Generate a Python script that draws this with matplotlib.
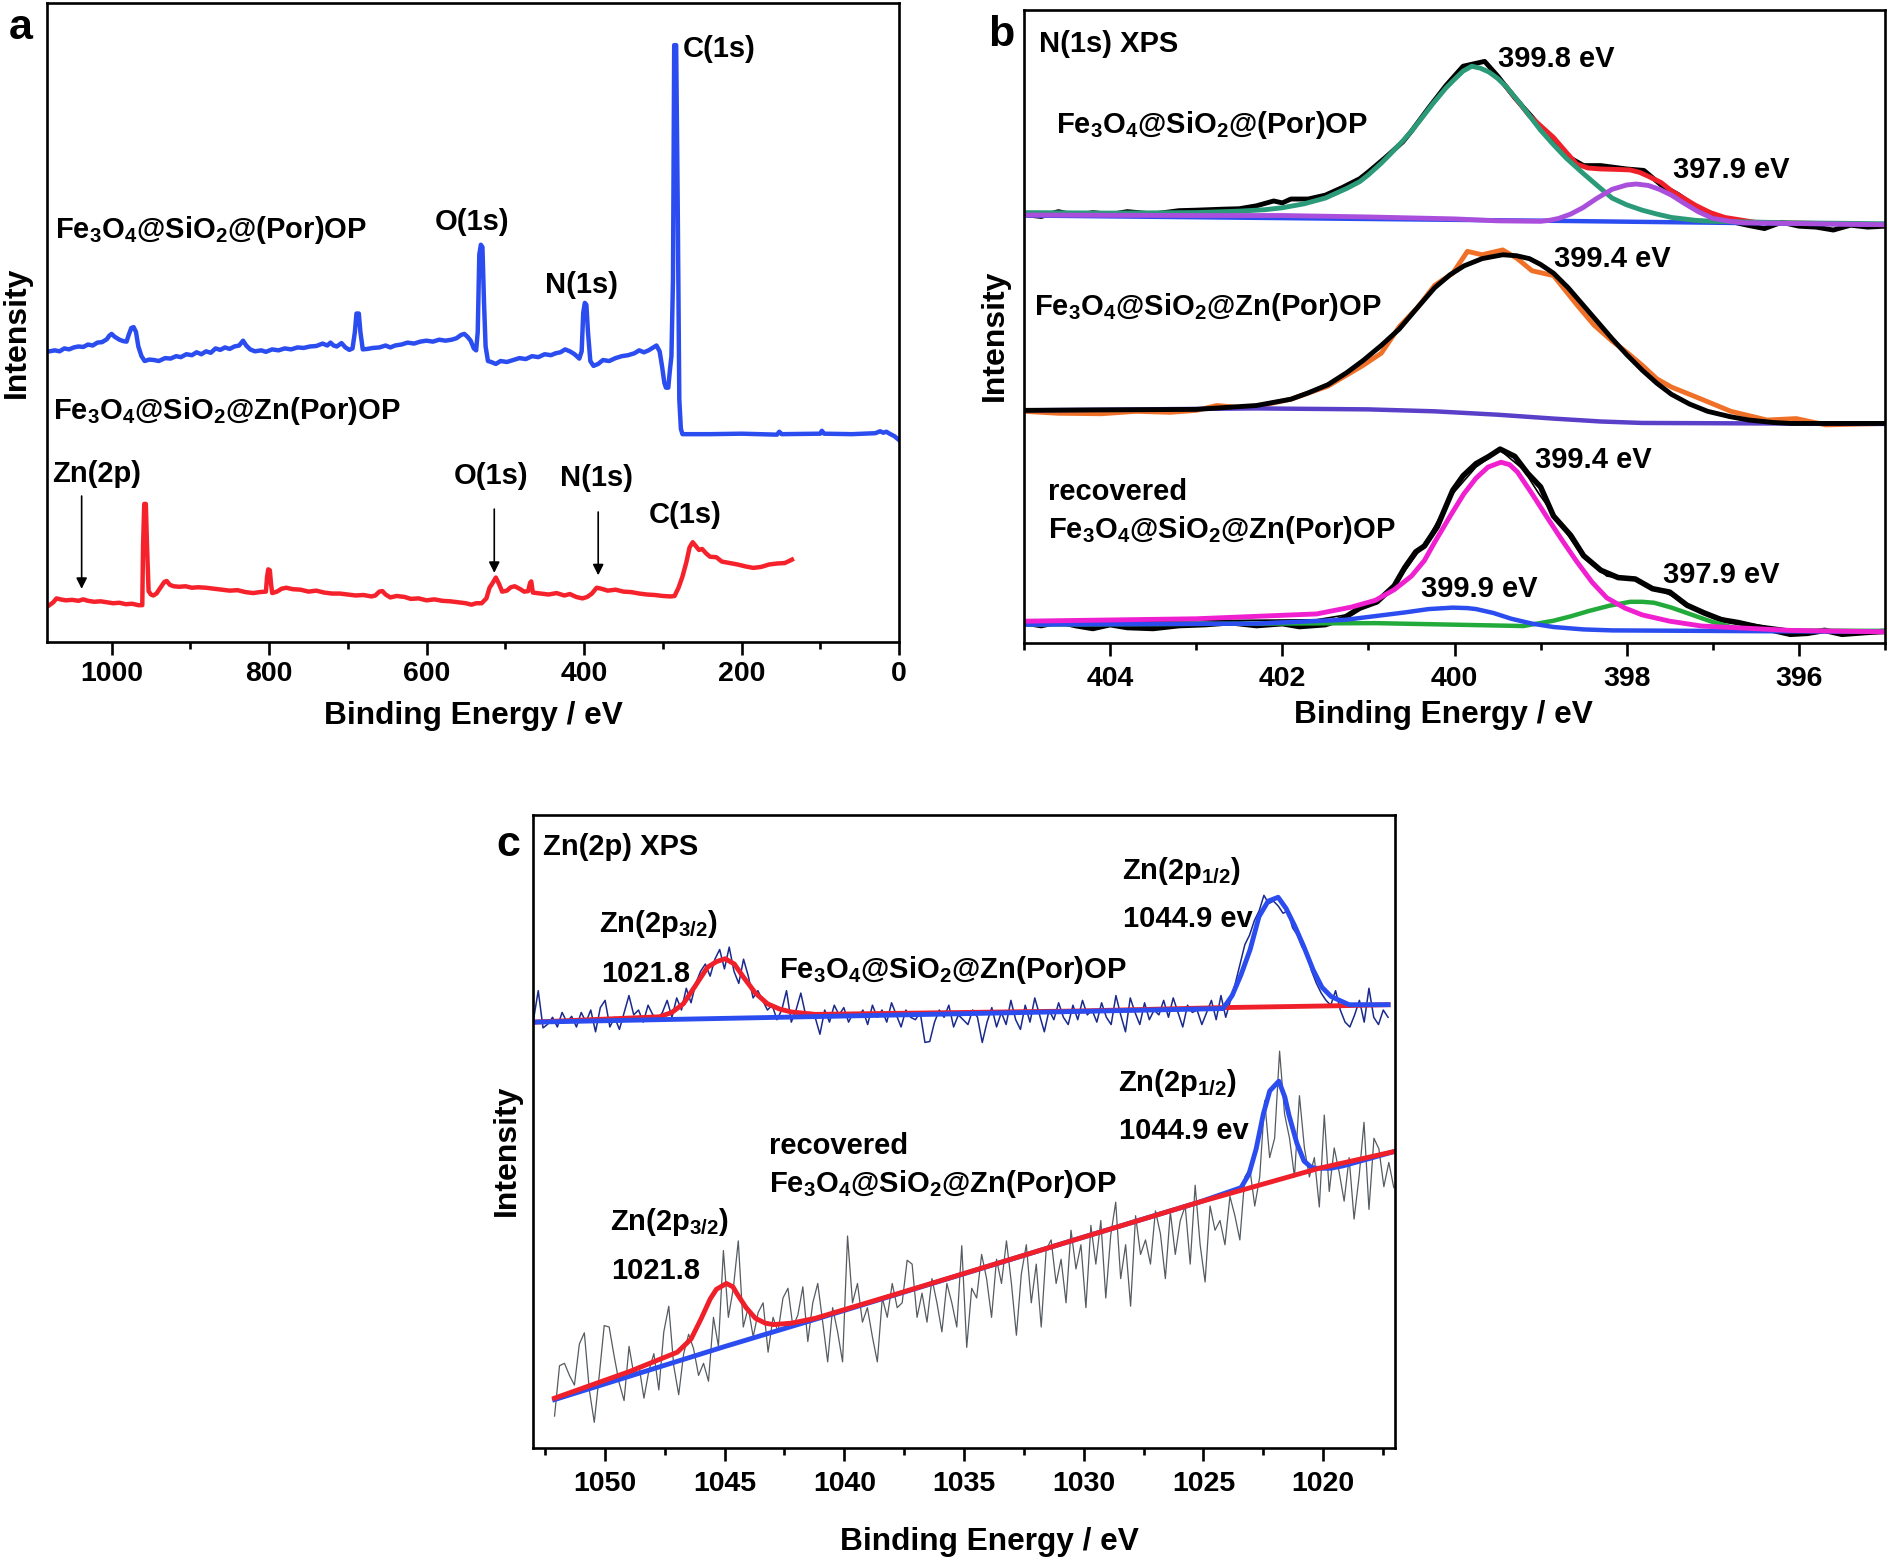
import numpy as np
import matplotlib
matplotlib.use("Agg")
import matplotlib.pyplot as plt
from matplotlib.ticker import MultipleLocator

plt.rcParams['font.family'] = ['Liberation Sans', 'DejaVu Sans']
plt.rcParams['font.weight'] = 'bold'
plt.rcParams['mathtext.fontset'] = 'custom'
plt.rcParams['mathtext.bf'] = 'Liberation Sans:bold'
plt.rcParams['mathtext.rm'] = 'Liberation Sans:bold'
plt.rcParams['mathtext.default'] = 'bf'

W, H = 1890, 1562

### panel a: survey spectra

a_blue_e = [1079, 1072, 1066, 1060, 1054, 1048, 1042, 1036, 1030, 1024, 1018, 1012, 1006, 1003, 1000, 996, 990, 985,
            981, 978, 975, 972, 969, 966, 962, 958, 952, 946, 940, 932, 925, 918, 912, 905, 898, 892, 886, 880, 874,
            868, 862, 856, 850, 844, 838, 833, 829, 824, 818, 810, 804, 796, 788, 780, 772, 764, 756, 748, 740, 732,
            726, 722, 718, 714, 708, 703, 698, 694, 691, 689, 686, 684, 681, 675, 668, 660, 652, 646, 640, 632, 624,
            616, 608, 600, 592, 584, 576, 568, 562, 556, 552, 548, 544, 540, 537, 535, 533, 531, 529, 527, 525, 522,
            518, 512, 506, 498, 490, 482, 474, 466, 458, 450, 442, 436, 430, 424, 418, 412, 406, 403, 401, 399, 397,
            395, 392, 388, 382, 376, 368, 360, 352, 344, 336, 330, 324, 318, 312, 308, 304, 301, 298, 296, 293, 291,
            289, 287, 285.5, 283, 281, 279, 277, 275, 240, 200, 155, 152, 149, 100, 98, 95, 60, 30, 24, 20, 16, 12, 6, 0]
a_blue_i = [600, 602, 600, 606, 604, 608, 610, 609, 614, 612, 618, 619, 625, 632, 636, 630, 624, 621,
            620, 635, 648, 650, 640, 610, 590, 580, 583, 582, 580, 586, 585, 590, 588, 594, 592, 598, 594, 600, 597,
            606, 603, 608, 605, 610, 612, 622, 612, 604, 600, 602, 599, 604, 602, 606, 604, 608, 607, 610, 611, 616,
            612, 618, 612, 610, 617, 608, 603, 606, 640, 678, 678, 640, 604, 605, 607, 608, 612, 608, 612, 614, 618,
            616, 620, 622, 620, 624, 622, 624, 627, 634, 636, 630, 622, 606, 602, 640, 800, 820, 815, 700, 610, 580,
            578, 574, 580, 578, 582, 586, 584, 590, 588, 594, 592, 596, 598, 604, 600, 594, 585, 600, 680, 700, 696,
            640, 580, 570, 574, 582, 580, 586, 590, 592, 596, 602, 598, 602, 608, 612, 600, 570, 535, 525, 525, 560,
            590, 750, 1232, 1232, 900, 500, 440, 429, 429, 430, 428, 434, 429, 430, 436, 430, 429, 431, 435, 432, 434, 430, 425, 417]

a_red_e = [1079, 1074, 1070, 1065, 1058, 1050, 1042, 1036, 1030, 1022, 1014, 1006, 998, 990, 982, 974, 966, 961, 960,
           958.5, 956.5, 955, 953, 950, 947, 943, 938, 933, 930, 926, 921, 914, 906, 898, 890, 880, 870, 860, 850,
           840, 830, 820, 812, 804, 802.5, 801, 799, 797.5, 796, 790, 784, 778, 770, 760, 750, 740, 730, 720, 710,
           700, 690, 680, 670, 665, 660, 656, 652, 646, 638, 628, 620, 610, 600, 590, 580, 570, 560, 550, 543, 537,
           530, 524, 520, 516, 512, 508, 504, 498, 493, 488, 482, 476, 471, 468.5, 467, 465, 455, 445, 435, 425, 418,
           410, 402, 396, 390, 384, 378, 370, 360, 350, 340, 330, 320, 310, 300, 290, 285, 280, 275, 270, 266, 262,
           258, 254, 250, 245, 240, 232, 225, 215, 205, 195, 185, 175, 165, 155, 145, 136]
a_red_i = [76, 82, 90, 88, 86, 87, 85, 88, 85, 83, 84, 82, 80, 81, 78, 79, 76, 76, 200,
           285, 285, 200, 105, 98, 96, 100, 112, 124, 126, 118, 115, 114, 115, 112, 113, 112, 110, 108, 106,
           107, 103, 101, 103, 104, 135, 150, 148, 120, 101, 104, 110, 112, 109, 108, 104, 106, 102, 100, 100,
           98, 96, 97, 94, 96, 104, 105, 98, 92, 95, 93, 89, 90, 86, 88, 85, 84, 82, 80, 77, 80,
           80, 90, 112, 122, 133, 120, 104, 106, 113, 115, 110, 104, 105, 122, 125, 102, 100, 98, 101, 96, 99,
           93, 90, 93, 100, 112, 110, 106, 108, 104, 103, 100, 98, 97, 95, 94, 95, 112, 135, 165, 195, 206,
           198, 190, 192, 183, 176, 175, 166, 163, 160, 156, 153, 155, 160, 162, 163, 170]

### panel b: N(1s)

b1_raw_e = [405, 404.8, 404.6, 404.4, 404.2, 404, 403.8, 403.5, 403.2, 403, 402.7, 402.5, 402.3, 402.1, 402, 401.9,
            401.7, 401.5, 401.3, 401.1, 401, 400.8, 400.6, 400.5, 400.3, 400.1, 399.9, 399.8, 399.65, 399.5, 399.3,
            399.1, 398.9, 398.7, 398.5, 398.3, 398, 397.8, 397.6, 397.4, 397.2, 397, 396.8, 396.6, 396.4, 396.2, 396,
            395.8, 395.6, 395.4, 395.2, 395]
b1_raw_i = [884, 880, 890, 882, 888, 884, 890, 885, 892, 893, 895, 896, 902, 912, 908, 916,
            916, 924, 940, 958, 972, 1002, 1034, 1056, 1104, 1150, 1190, 1194, 1200, 1170, 1125,
            1085, 1042, 1005, 985, 985, 978, 975, 945, 925, 900, 885, 870, 862, 855, 868, 860,
            858, 852, 862, 858, 860]
b1_total_e = [399.4, 399.13, 398.85, 398.7, 398.58, 398.45, 398.3, 398.1, 397.96, 397.85, 397.75, 397.6, 397.48,
              397.34, 397.2, 397.03, 396.86, 396.51, 395]
b1_total_i = [1148, 1088, 1043, 1012, 988, 980, 978, 977, 976, 971, 963, 950, 933,
              918, 903, 888, 878, 868, 863]
b1_main_e = [405, 404, 403, 402.5, 402.2, 402, 401.75, 401.5, 401.25, 401.1, 401, 400.85, 400.75, 400.6, 400.5,
             400.35, 400.25, 400.1, 400, 399.9, 399.8, 399.7, 399.6, 399.5, 399.4, 399.25, 399.13, 399, 398.85,
             398.7, 398.5, 398.33, 398.17, 398, 397.82, 397.65, 397.48, 397.2, 397, 396.1, 395]
b1_main_i = [888, 887, 888, 891, 894, 898, 906, 918, 938, 952, 966, 990, 1008, 1036, 1056,
             1090, 1113, 1145, 1163, 1180, 1190, 1186, 1178, 1165, 1148, 1116, 1088, 1058, 1028,
             1000, 968, 942, 918, 904, 893, 885, 878, 872, 870, 867, 865]
b1_side_e = [405, 403, 402, 401, 400, 399.5, 399, 398.9, 398.79, 398.65, 398.51, 398.35, 398.17, 398, 397.89, 397.75,
             397.62, 397.48, 397.34, 397.17, 397, 396.8, 396.65, 395]
b1_side_i = [883, 882, 882, 879, 875, 871, 870, 872, 876, 885, 898, 917, 936, 945, 947, 944,
             936, 924, 908, 890, 876, 870, 867, 863]
b1_base_e = [405, 398.85, 395]
b1_base_i = [882, 871, 863]

b2_raw_e = [405, 404.6, 404.1, 403.7, 403.3, 403, 402.76, 402.5, 402.3, 401.9, 401.47, 401.06, 400.85, 400.64, 400.43,
            400.23, 400.02, 399.85, 399.68, 399.44, 399.27, 399.1, 398.85, 398.58, 398.38, 398.17, 398, 397.82,
            397.65, 397.48, 397.2, 396.79, 396.37, 396.03, 395.69, 395]
b2_raw_i = [478, 474, 473, 478, 476, 480, 490, 486, 488, 503, 530, 573, 598, 653, 692,
            738, 763, 808, 801, 811, 793, 768, 758, 698, 656, 623, 600, 573,
            545, 528, 508, 478, 460, 463, 450, 453]
b2_fit_e = [405, 403, 402.3, 401.9, 401.7, 401.47, 401.25, 401.06, 400.85, 400.64, 400.43, 400.23, 400.05, 399.89,
            399.68, 399.44, 399.28, 399.13, 399, 398.85, 398.68, 398.51, 398.34, 398.17, 398, 397.82, 397.65, 397.48,
            397.27, 397.06, 396.8, 396.58, 396.3, 396.1, 395]
b2_fit_i = [480, 482, 490, 503, 516, 533, 558, 583, 614, 648, 692, 733, 760, 778,
            793, 801, 799, 793, 781, 763, 733, 698, 663, 628, 595, 563, 536, 513,
            493, 478, 467, 460, 455, 453, 453]
b2_base_e = [405, 402.3, 401, 400.23, 399.5, 398.85, 398.3, 397.82, 395]
b2_base_i = [480, 484, 482, 478, 471, 463, 457, 454, 452]

b3_raw_e = [405, 404.8, 404.6, 404.4, 404.2, 404, 403.8, 403.5, 403.2, 402.9, 402.6, 402.3, 402, 401.8, 401.5, 401.3,
            401.1, 400.9, 400.7, 400.58, 400.45, 400.35, 400.2, 400.02, 399.9, 399.75, 399.6, 399.47, 399.3, 399.15,
            399, 398.85, 398.65, 398.5, 398.3, 398.1, 397.9, 397.7, 397.5, 397.3, 397.1, 396.9, 396.7, 396.4, 396.1,
            395.9, 395.7, 395.5, 395.2, 395]
b3_raw_i = [42, 36, 44, 36, 30, 38, 32, 30, 36, 38, 42, 36, 40, 34, 38, 50,
            72, 85, 118, 155, 188, 200, 240, 315, 345, 370, 385, 400, 385, 350,
            322, 262, 222, 180, 150, 135, 132, 112, 105, 78, 62, 48, 42, 30, 18,
            20, 26, 18, 22, 24]
b3_fit_e = [405, 401.6, 401.26, 400.92, 400.71, 400.58, 400.3, 400.02, 399.75, 399.47, 399.2, 399.02, 398.78, 398.51,
            398.23, 397.89, 397.48, 397.13, 396.72, 396.1, 395]
b3_fit_i = [43, 48, 58, 83, 113, 148, 218, 308, 363, 398, 358, 308, 248, 178,
            138, 130, 98, 63, 43, 28, 23]
b3_mag_e = [405, 403, 401.6, 401.2, 400.92, 400.7, 400.5, 400.35, 400.23, 400.05, 399.89, 399.75, 399.61, 399.46,
            399.36, 399.27, 399.1, 398.92, 398.75, 398.58, 398.4, 398.23, 398.02, 397.82, 397.5, 397.13, 396.1, 395]
b3_mag_i = [45, 50, 60, 74, 88, 110, 138, 170, 208, 262, 308, 340, 363, 373,
            368, 353, 308, 258, 212, 168, 125, 93, 72, 58, 45, 35, 26, 23]
b3_blue_e = [405, 402.3, 401.26, 400.58, 400.3, 400.02, 399.85, 399.75, 399.55, 399.34, 399.1, 398.85, 398.5, 398.17, 395]
b3_blue_i = [38, 40, 48, 63, 70, 73, 72, 70, 62, 50, 40, 33, 28, 26, 23]
b3_green_e = [405, 400.92, 399.2, 398.85, 398.65, 398.44, 398.2, 397.96, 397.82, 397.68, 397.48, 397.27, 397.03,
              396.79, 396.44, 395]
b3_green_i = [38, 41, 35, 46, 55, 66, 77, 85, 85, 83, 73, 60, 45, 33, 26, 25]

### panel c: Zn(2p)

c1_raw_i = [885, 945, 868, 876, 890, 870, 900, 880, 892, 870,
            900, 880, 905, 860, 910, 925, 870, 890, 865, 900,
            935, 895, 905, 880, 915, 895, 885, 900, 925, 890,
            930, 905, 950, 920, 960, 985, 1000, 975, 1010, 1030,
            990, 1035, 985, 960, 1010, 975, 930, 945, 925, 905,
            915, 885, 905, 945, 880, 905, 940, 895, 900, 890,
            855, 905, 880, 915, 895, 910, 880, 900, 890, 905,
            875, 915, 890, 905, 880, 920, 895, 870, 905, 890,
            885, 900, 838, 840, 880, 905, 890, 915, 870, 895,
            885, 875, 905, 890, 838, 880, 910, 870, 900, 875,
            925, 885, 865, 915, 880, 930, 895, 860, 905, 885,
            920, 890, 875, 915, 885, 925, 895, 905, 880, 920,
            890, 875, 935, 895, 860, 930, 900, 875, 920, 885,
            905, 895, 925, 890, 930, 900, 870, 915, 900, 905,
            875, 900, 925, 885, 935, 890, 925, 960, 1000, 1040,
            1060, 1090, 1110, 1142, 1125, 1130, 1120, 1105, 1110, 1075,
            1060, 1035, 1020, 985, 960, 940, 925, 915, 945, 905,
            880, 870, 895, 925, 880, 950, 890, 875, 905, 890]
c1_red_e = [1052.98, 1047.72, 1047.2, 1046.72, 1046.22, 1045.72, 1045.34, 1044.97, 1044.59, 1044.21, 1043.71, 1043.21,
            1042.7, 1042.21, 1041.21, 1030.19, 1024.18, 1019.17, 1017.29]
c1_red_i = [880, 891, 900, 918, 955, 993, 1005, 1011, 1000, 973, 940, 918,
            907, 901, 896, 903, 910, 914, 916]
c1_blue_e = [1052.98, 1024.18, 1023.8, 1023.43, 1023.05, 1022.68, 1022.3, 1021.88, 1021.55, 1021.18, 1020.8, 1020.42,
             1020.05, 1019.67, 1018.92, 1017.29]
c1_blue_i = [880, 908, 935, 978, 1030, 1098, 1130, 1138, 1115, 1078, 1035, 988,
             952, 933, 916, 916]

c2_raw_i = [66, 170, 175, 150, 130, 215, 238, 120, 53, 150,
            253, 250, 190, 135, 98, 210, 150, 170, 103, 160,
            195, 120, 240, 293, 170, 110, 195, 235, 205, 150,
            175, 138, 270, 210, 408, 270, 330, 428, 250, 290,
            230, 280, 300, 198, 270, 240, 310, 330, 250, 275,
            333, 220, 300, 340, 260, 178, 290, 240, 178, 438,
            300, 340, 260, 290, 230, 178, 310, 270, 340, 290,
            300, 388, 380, 270, 320, 260, 350, 300, 240, 340,
            300, 250, 418, 208, 330, 310, 400, 350, 270, 390,
            340, 428, 340, 233, 360, 420, 300, 380, 250, 410,
            430, 340, 390, 300, 450, 370, 420, 290, 460, 380,
            470, 310, 440, 508, 350, 420, 293, 480, 400, 430,
            380, 490, 443, 350, 488, 400, 470, 500, 380, 543,
            420, 343, 500, 450, 470, 420, 520, 480, 430, 560,
            578, 500, 560, 718, 600, 640, 820, 690, 640, 560,
            728, 620, 560, 600, 498, 688, 530, 620, 570, 510,
            600, 473, 560, 673, 493, 640, 618, 540, 590, 538]
c2_red_e = [1052.1, 1048.97, 1046.97, 1046.4, 1045.97, 1045.6, 1045.34, 1044.92, 1044.65, 1044.47, 1044.1, 1043.71,
            1043.3, 1042.96, 1042.2, 1041.21, 1037.7, 1030.19, 1025.18, 1020.17, 1017]
c2_red_i = [103, 158, 198, 225, 268, 308, 328, 340, 333, 318, 290, 268,
            258, 255, 258, 268, 320, 433, 508, 578, 613]
c2_blue_e = [1052.1, 1044.97, 1041.21, 1030.19, 1025.18, 1023.43, 1023.1, 1022.8, 1022.5, 1022.23, 1021.85, 1021.6,
             1021.43, 1021.1, 1020.8, 1020.5, 1020.3, 1019.7, 1019.17, 1017]
c2_blue_i = [100, 210, 266, 433, 508, 538, 566, 618, 690, 738, 758, 725,
             688, 630, 593, 580, 578, 578, 583, 613]

fe_por = "Fe$_3$O$_4$@SiO$_2$@(Por)OP"
fe_zn = "Fe$_3$O$_4$@SiO$_2$@Zn(Por)OP"

fig = plt.figure(figsize=(W / 100, H / 100), dpi=100)


def make_axes(left, right, top, bottom, xlim, ylim, major, minor, pad, labelpad, label_x):
    ax = fig.add_axes([left / W, 1 - bottom / H, (right - left) / W, (bottom - top) / H])
    ax.set_xlim(*xlim)
    ax.set_ylim(*ylim)
    ax.set_yticks([])
    ax.xaxis.set_major_locator(MultipleLocator(major))
    ax.xaxis.set_minor_locator(MultipleLocator(minor))
    ax.tick_params(axis="x", which="major", length=9.4, width=1.9, labelsize=20.5, pad=pad)
    ax.tick_params(axis="x", which="minor", length=5, width=1.9)
    for s in ax.spines.values():
        s.set_linewidth(1.9)
    ax.set_xlabel("Binding Energy / eV", fontsize=22.8, fontweight="bold", labelpad=labelpad, x=label_x)
    return ax


### a
ax_a = make_axes(47, 899, 3, 642, (1082, 0), (0, 1319), 200, 100, 4.6, 10, 0.5)
ax_a.plot(a_blue_e, a_blue_i, color="#2b4df0", lw=3.2, solid_joinstyle="round")
ax_a.plot(a_red_e, a_red_i, color="#f5222b", lw=3.2, solid_joinstyle="round")
for e, top_i, tip_i in [(1038, 307, 104), (514, 280, 137), (382, 274, 132)]:
    ax_a.annotate("", xy=(e, tip_i), xytext=(e, top_i),
                  arrowprops=dict(arrowstyle="-|>", color="black", lw=1.2, mutation_scale=16))
for x, y, s in [(274, 1225, "C(1s)"), (1072, 850, fe_por), (589, 867, "O(1s)"), (450, 737, "N(1s)"),
                (1075, 477, fe_zn), (1075, 347, "Zn(2p)"), (566, 342, "O(1s)"), (431, 339, "N(1s)"),
                (318, 262, "C(1s)")]:
    ax_a.text(x, y, s, fontsize=21, va="center", ha="left")

### b
ax_b = make_axes(1024, 1885, 10, 643, (405, 395), (0, 1306), 2, 1, 6.9, 6, 0.487)
ax_b.plot(b1_raw_e, b1_raw_i, color="black", lw=3.5)
ax_b.plot(b1_total_e, b1_total_i, color="#f0202a", lw=3.5)
ax_b.plot(b1_base_e, b1_base_i, color="#2b4df0", lw=3.2)
ax_b.plot(b1_main_e, b1_main_i, color="#2b9a78", lw=3.5)
ax_b.plot(b1_side_e, b1_side_i, color="#a94fdc", lw=3.5)
ax_b.plot(b2_raw_e, b2_raw_i, color="#f07028", lw=3.5)
ax_b.plot(b2_base_e, b2_base_i, color="#5a3fc8", lw=3.2)
ax_b.plot(b2_fit_e, b2_fit_i, color="black", lw=3.5)
ax_b.plot(b3_raw_e, b3_raw_i, color="black", lw=4)
ax_b.plot(b3_fit_e, b3_fit_i, color="black", lw=1.2)
ax_b.plot(b3_green_e, b3_green_i, color="#22aa3a", lw=3.2)
ax_b.plot(b3_blue_e, b3_blue_i, color="#2b4df0", lw=3.2)
ax_b.plot(b3_mag_e, b3_mag_i, color="#f020d0", lw=3.5)
for x, y, s in [(404.82, 1235, "N(1s) XPS"), (399.49, 1205, "399.8 eV"), (404.63, 1068, fe_por),
                (397.46, 976, "397.9 eV"), (398.84, 793, "399.4 eV"), (404.88, 693, fe_zn),
                (399.07, 378, "399.4 eV"), (404.72, 311, "recovered"), (404.72, 233, fe_zn),
                (397.58, 141, "397.9 eV"), (400.39, 111, "399.9 eV")]:
    ax_b.text(x, y, s, fontsize=21, va="center", ha="left")

### c
ax_c = make_axes(533, 1395, 815, 1448, (1053, 1017), (0, 1308), 5, 2.5, 6.9, 22, 0.53)
ax_c.plot(np.linspace(1052.98, 1017.29, len(c1_raw_i)), c1_raw_i, color="#1a2a8c", lw=1.1)
ax_c.plot(c1_red_e, c1_red_i, color="#f0202a", lw=3.5)
ax_c.plot(c1_blue_e, c1_blue_i, color="#2b4df0", lw=3.5)
ax_c.plot(np.linspace(1052.1, 1017.05, len(c2_raw_i)), c2_raw_i, color="#555b60", lw=0.9)
ax_c.plot(c2_blue_e, c2_blue_i, color="#2b4df0", lw=3.5)
ax_c.plot(c2_red_e, c2_red_i, color="#f0202a", lw=3.5)
for x, y, s in [(1052.58, 1241, "Zn(2p) XPS"), (1028.39, 1193, "Zn(2p$_{1/2}$)"), (1028.36, 1093, "1044.9 ev"),
                (1050.23, 1083, "Zn(2p$_{3/2}$)"), (1050.15, 980, "1021.8"), (1042.71, 988, fe_zn),
                (1028.56, 755, "Zn(2p$_{1/2}$)"), (1028.51, 656, "1044.9 ev"), (1043.16, 625, "recovered"),
                (1043.16, 546, fe_zn), (1049.77, 468, "Zn(2p$_{3/2}$)"), (1049.72, 366, "1021.8")]:
    ax_c.text(x, y, s, fontsize=21, va="center", ha="left")

### labels outside the frames

for x, y, s in [(9, 28, "a"), (988, 35, "b"), (496, 845, "c")]:
    fig.text(x / W, 1 - y / H, s, fontsize=31, va="center", ha="left")
for x, y in [(17, 332), (995, 335), (507, 1150)]:
    fig.text(x / W, 1 - y / H, "Intensity", fontsize=23, rotation=90, va="center", ha="center")

fig.savefig("out.png", dpi=100, facecolor="white")
